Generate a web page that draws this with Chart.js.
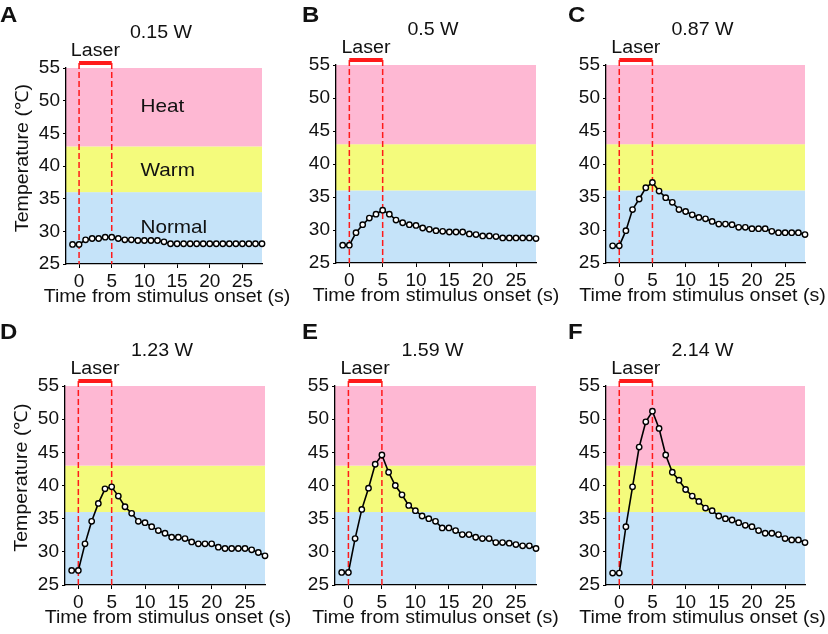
<!DOCTYPE html>
<html>
<head>
<meta charset="utf-8">
<script src="https://cdn.jsdelivr.net/npm/chart.js@4.4.1/dist/chart.umd.min.js"></script>
<style>
  html, body { margin: 0; padding: 0; background: #fff; }
  #wrap { position: relative; width: 828px; height: 634px; overflow: hidden; }
  #wrap canvas { position: absolute; }
</style>
</head>
<body>
<div id="wrap"></div>
<script>
// time points (s), one reading per second
const time = [-1, 0, 1, 2, 3, 4, 5, 6, 7, 8, 9, 10, 11, 12, 13, 14, 15, 16, 17, 18, 19, 20, 21, 22, 23, 24, 25, 26, 27, 28];

const tempA = [28.0, 28.0, 28.7, 28.9, 28.9, 29.1, 29.1, 28.9, 28.7, 28.7, 28.6, 28.6, 28.6, 28.6, 28.4, 28.1, 28.1, 28.1, 28.1, 28.1, 28.1, 28.1, 28.1, 28.1, 28.1, 28.1, 28.1, 28.1, 28.1, 28.1];
const tempB = [27.7, 27.7, 29.6, 30.8, 31.8, 32.4, 33.0, 32.4, 31.5, 31.1, 30.8, 30.7, 30.3, 30.1, 29.9, 29.8, 29.7, 29.7, 29.7, 29.4, 29.3, 29.1, 29.1, 29.0, 28.8, 28.8, 28.8, 28.8, 28.8, 28.7];
const tempC = [27.6, 27.6, 29.9, 33.1, 34.7, 36.4, 37.2, 35.9, 34.9, 34.2, 33.1, 32.8, 32.3, 31.9, 31.7, 31.3, 30.9, 30.9, 30.8, 30.4, 30.4, 30.2, 30.2, 30.2, 29.8, 29.6, 29.6, 29.6, 29.6, 29.3];
const tempD = [27.2, 27.2, 31.2, 34.6, 37.3, 39.5, 39.8, 38.4, 36.8, 35.8, 34.6, 34.4, 33.8, 33.2, 32.8, 32.2, 32.2, 32.0, 31.5, 31.2, 31.2, 31.2, 30.7, 30.5, 30.5, 30.5, 30.5, 30.3, 29.9, 29.4];
const tempE = [26.9, 26.9, 32.0, 36.4, 39.6, 43.2, 44.6, 42.0, 40.0, 38.6, 37.0, 36.2, 35.4, 35.0, 34.6, 33.6, 33.6, 33.2, 32.6, 32.6, 32.2, 32.0, 32.0, 31.4, 31.4, 31.3, 31.1, 30.9, 30.9, 30.5];
const tempF = [26.8, 26.8, 33.8, 39.8, 45.8, 49.6, 51.2, 48.6, 44.6, 42.0, 40.8, 39.4, 38.4, 37.6, 36.6, 36.2, 35.4, 35.0, 34.8, 34.4, 34.0, 33.8, 33.2, 32.8, 32.8, 32.6, 32.0, 31.8, 31.8, 31.4];

const panelLetters = ["A", "B", "C", "D", "E", "F"];
const powerLabels = ["0.15 W", "0.5 W", "0.87 W", "1.23 W", "1.59 W", "2.14 W"];
const xTicks = [0, 5, 10, 15, 20, 25];
const laserWindow = [0, 5];
const bandEdges = [25, 36, 43, 55];
const bandNames = ["Normal", "Warm", "Heat"];
const bandLabelTemps = [30.5, 39.2, 49.1];
const bandLabelTime = 9.4;

const series = [tempA, tempB, tempC, tempD, tempE, tempF];

// page geometry of each plot box [left, top, right, bottom]
const boxes = [
    { plot: [66, 68, 262, 264], letterX: 0, yTitle: true },
    { plot: [336, 65, 536, 263], letterX: 302, yTitle: false },
    { plot: [606, 65, 805, 263], letterX: 568, yTitle: false },
    { plot: [65, 386, 265, 585], letterX: 0, yTitle: true },
    { plot: [335, 386, 536, 585], letterX: 302, yTitle: false },
    { plot: [606, 386, 805, 585], letterX: 568, yTitle: false }
];

const bandColors = ["#c5e3f9", "#f4fb7c", "#feb8d3"];
const FONT = "'Liberation Sans', Arial, Helvetica, sans-serif";
const SX = 1.09;

function txt(ctx, s, x, y, font, align, rot) {
    ctx.save();
    ctx.translate(x, y);
    if (rot) ctx.rotate(rot);
    ctx.scale(SX, 1);
    ctx.font = font;
    ctx.fillStyle = "#111";
    ctx.textAlign = align || "center";
    ctx.textBaseline = "middle";
    ctx.fillText(s, 0, 0);
    ctx.restore();
}

function makeChart(i) {
    const col = i % 3, row = Math.floor(i / 3);
    const box = boxes[i];
    const cx = col * 270, cy = row * 316, cw = 300, ch = 318;
    const [pl, pt, pr, pb] = box.plot;

    const canvas = document.createElement("canvas");
    canvas.width = cw;
    canvas.height = ch;
    canvas.style.left = cx + "px";
    canvas.style.top = cy + "px";
    document.getElementById("wrap").appendChild(canvas);

    const decor = {
        id: "decor" + i,
        beforeDraw(chart) {
            const { ctx, chartArea: a, scales: { y } } = chart;
            ctx.save();
            for (let b = 0; b < bandNames.length; b++) {
                const top = y.getPixelForValue(bandEdges[b + 1]);
                const bot = y.getPixelForValue(bandEdges[b]);
                ctx.fillStyle = bandColors[b];
                ctx.fillRect(a.left, top, a.right - a.left, bot - top);
            }
            ctx.restore();
        },
        beforeDatasetsDraw(chart) {
            const { ctx, chartArea: a, scales: { x } } = chart;
            const barY = a.top - 5;
            ctx.save();
            ctx.strokeStyle = "#ff1a1a";
            ctx.lineWidth = 1.5;
            ctx.setLineDash([6, 3]);
            laserWindow.forEach(t => {
                const px = x.getPixelForValue(t);
                ctx.beginPath();
                ctx.moveTo(px, barY);
                ctx.lineTo(px, a.bottom);
                ctx.stroke();
            });
            ctx.setLineDash([]);
            // laser bar
            const x0 = x.getPixelForValue(laserWindow[0]);
            const x1 = x.getPixelForValue(laserWindow[1]);
            ctx.fillStyle = "#ff1a1a";
            ctx.fillRect(x0, barY - 2, x1 - x0, 4);
            ctx.restore();
        },
        afterDraw(chart) {
            const { ctx, chartArea: a, scales: { x, y } } = chart;
            const midX = (a.left + a.right) / 2;
            const lx = x.getPixelForValue((laserWindow[0] + laserWindow[1]) / 2);
            txt(ctx, "Laser", lx, a.top - 17, "18px " + FONT);
            txt(ctx, powerLabels[i], midX - 3, a.top - 35, "18px " + FONT);
            txt(ctx, panelLetters[i], box.letterX - cx, (row ? 332.5 : 15.5) - cy, "bold 22px " + FONT, "left");
            txt(ctx, "Time from stimulus onset (s)", midX + 3 - 3 * col, a.bottom + 33, "18px " + FONT);
            if (box.yTitle) {
                txt(ctx, "Temperature (\u2103)", a.left - 43, (a.top + a.bottom) / 2 - 8, "18px " + FONT, "center", -Math.PI / 2);
            }
            if (i === 0) {
                bandNames.forEach((name, b) => {
                    txt(ctx, name, x.getPixelForValue(bandLabelTime), y.getPixelForValue(bandLabelTemps[b]), "19px " + FONT, "left");
                });
            }
        }
    };

    return new Chart(canvas.getContext("2d"), {
        type: "line",
        data: {
            datasets: [{
                data: time.map((t, k) => ({ x: t, y: series[i][k] })),
                borderColor: "#000",
                borderWidth: 1.6,
                pointRadius: 2.7,
                pointBorderWidth: 1.4,
                pointBackgroundColor: "#fff",
                pointBorderColor: "#000",
                tension: 0,
                clip: false
            }]
        },
        options: {
            responsive: false,
            animation: false,
            devicePixelRatio: 1,
            layout: {
                padding: {
                    left: pl - cx - 32,
                    top: pt - cy,
                    right: cx + cw - pr,
                    bottom: cy + ch - pb - 24
                }
            },
            plugins: { legend: { display: false }, tooltip: { enabled: false } },
            scales: {
                x: {
                    type: "linear",
                    min: -2,
                    max: 28,
                    afterBuildTicks: s => { s.ticks = xTicks.map(v => ({ value: v })); },
                    afterFit: s => { s.height = 24; },
                    grid: { drawOnChartArea: false, drawTicks: true, tickLength: 4, color: "#000", lineWidth: 1 },
                    border: { color: "#000", width: 1.3 },
                    ticks: { font: { size: 19, family: FONT }, color: "#111", padding: 2, maxRotation: 0, autoSkip: false }
                },
                y: {
                    min: 25,
                    max: 55,
                    afterFit: s => { s.width = 32; },
                    grid: { drawOnChartArea: false, drawTicks: true, tickLength: 3, color: "#000", lineWidth: 1 },
                    border: { color: "#000", width: 1.3 },
                    ticks: { stepSize: 5, font: { size: 19, family: FONT }, color: "#111", padding: 3 }
                }
            }
        },
        plugins: [decor]
    });
}

for (let i = 0; i < 6; i++) makeChart(i);
</script>
</body>
</html>
